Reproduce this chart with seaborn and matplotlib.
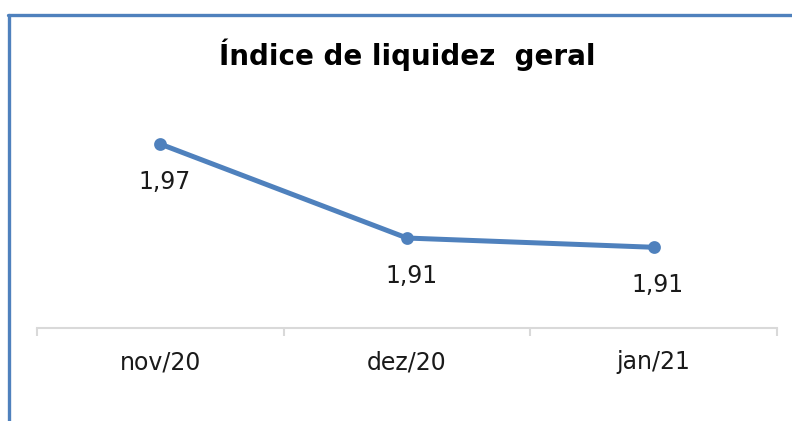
import matplotlib
matplotlib.use("Agg")
import matplotlib.pyplot as plt
from matplotlib.lines import Line2D
from matplotlib.ticker import FixedLocator
import seaborn as sns
import pandas as pd

months = ["nov/20", "dez/20", "jan/21"]
liquidez = [1.974, 1.913, 1.907]
title = "Índice de liquidez  geral"

blue = "#4F81BD"
grey = "#D9D9D9"

sns.set_style("white")
plt.rcParams['font.family'] = ['DejaVu Sans']

df = pd.DataFrame({"mes": months, "valor": liquidez})

fig = plt.figure(figsize=(7.92, 4.21), dpi=100)
ax = fig.add_axes([37/792, 93/421, 740/792, 228/421])

sns.pointplot(data=df, x="mes", y="valor", color=blue, markers="o",
              linestyles="-", ax=ax, markersize=6.5, linewidth=3.6)

ax.set_xlim(-0.5, 2.5)
ax.set_ylim(1.8546, 2.0026)
ax.set_xlabel("")
ax.set_ylabel("")
ax.set_yticks([])
for side in ["top", "right", "left"]:
    ax.spines[side].set_visible(False)
ax.spines["bottom"].set_color(grey)
ax.spines["bottom"].set_linewidth(1.5)

ax.xaxis.set_minor_locator(FixedLocator([-0.5, 0.5, 1.5, 2.5]))
ax.tick_params(axis="x", which="major", length=0, pad=16, labelsize=17,
               labelcolor="#1a1a1a")
ax.tick_params(axis="x", which="minor", length=5.5, width=1.5, color=grey,
               bottom=True)

for i, v in enumerate(liquidez):
    ax.annotate(f"{v:.2f}".replace(".", ","), (i, v), xytext=(3, -27),
                textcoords="offset points", ha="center", va="center",
                fontsize=17, color="#1a1a1a")

fig.text(407/792, 1 - 55/421, title, ha="center", va="center",
         fontsize=20, fontweight="bold", color="black")

# blue frame (left and top edges)
fig.add_artist(Line2D([9/792, 9/792], [0, 1 - 15/421], color=blue,
                      linewidth=2.4, transform=fig.transFigure))
fig.add_artist(Line2D([8/792, 1], [1 - 15/421, 1 - 15/421], color=blue,
                      linewidth=2.4, transform=fig.transFigure))

fig.savefig("out.png", dpi=100)
